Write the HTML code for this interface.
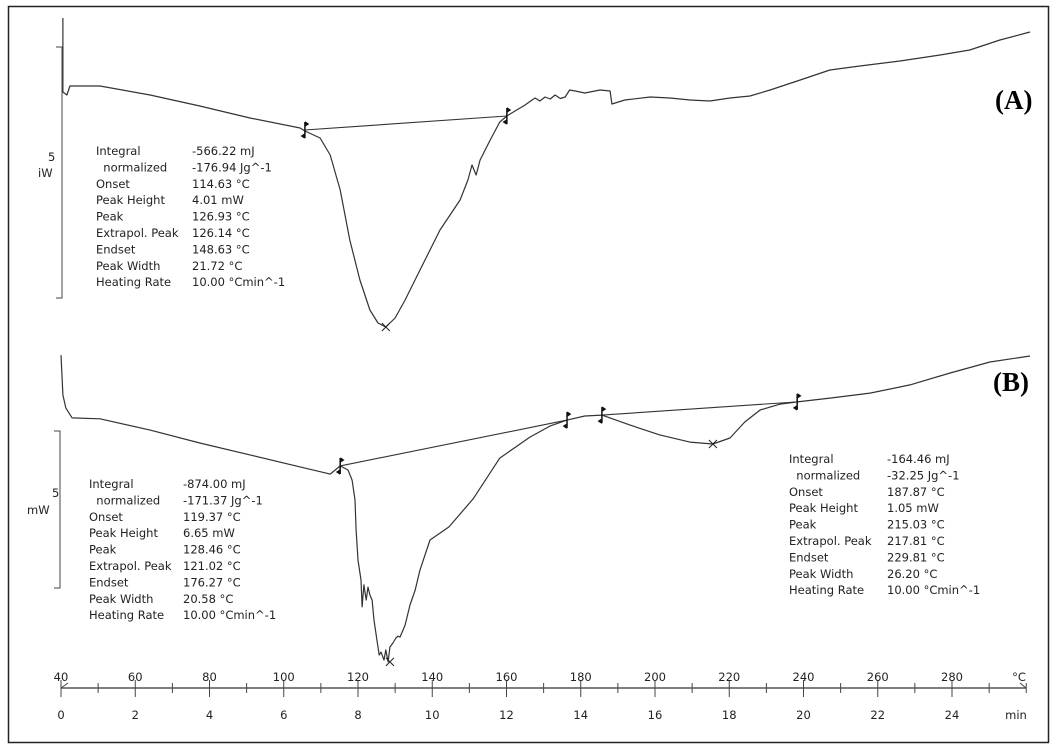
<!DOCTYPE html>
<html><head><meta charset="utf-8"><style>
body{margin:0;background:#fff}
svg{display:block}
text{font-family:"DejaVu Sans","Liberation Sans",sans-serif;font-size:11.5px;fill:#222;white-space:pre}
</style></head><body>
<svg id="chart" width="1055" height="749" viewBox="0 0 1055 749">
<rect x="8.5" y="6.5" width="1040" height="736" fill="none" stroke="#222" stroke-width="1.5"/>
<g id="g"></g>
</svg>
<script>
// Curve A: temperature (°C) and heat flow (mW, relative)
const tempA=[40.5,40.5,41.6,42.4,50.5,64,77.4,90.9,104.4,105.7,109.8,112.5,115.2,117.8,120.5,123.2,125.4,127.5,130,132.7,136.7,142.1,147.5,149.6,150.7,151.8,152.9,155.6,158.2,160.1,162.3,165,166.5,167.7,169,170.4,171.8,173.1,174.5,175.8,177,178.5,181.1,185.2,187.9,188.4,191.9,198.7,204,209.4,214.8,220.2,225.6,231,239.1,247.1,255.2,266,276.8,284.8,292.9,301];
const valA=[1.64,0.16,0.1,0.28,0.28,0.1,-0.12,-0.36,-0.56,-0.62,-0.76,-1.1,-1.8,-2.8,-3.6,-4.2,-4.46,-4.54,-4.36,-4,-3.4,-2.6,-2,-1.6,-1.3,-1.5,-1.2,-0.8,-0.44,-0.32,-0.22,-0.1,-0.02,0.04,-0.02,0.06,0.02,0.1,0.03,0.06,0.2,0.18,0.14,0.2,0.18,-0.08,0,0.06,0.04,0,-0.02,0.04,0.08,0.2,0.4,0.6,0.68,0.78,0.9,1,1.2,1.36];
// Curve B
const tempB=[40,40.5,41.3,43,50.5,64,77.4,90.9,104.4,112.5,115.2,117.3,118.4,119.2,119.5,120,120.8,121.1,121.6,122.2,122.7,123.2,123.8,124.3,125.1,125.7,126.2,127,127.5,128.1,128.6,129.4,130.2,130.8,131.3,131.9,132.7,134,135.4,136.7,139.4,144.5,151,158.2,166.3,171.7,176.3,181.1,185.7,193.3,201.3,209.4,215.6,220.2,224.2,228.3,233.7,238.3,247.1,257.9,268.7,279.5,290.2,301];
const valB=[1.43,0.16,-0.25,-0.57,-0.6,-0.96,-1.37,-1.75,-2.13,-2.36,-2.1,-2.23,-2.55,-3.18,-4.14,-5.1,-5.73,-6.59,-5.89,-6.37,-5.96,-6.21,-6.37,-7.01,-7.64,-8.12,-8.03,-8.28,-7.96,-8.34,-7.87,-7.74,-7.58,-7.52,-7.55,-7.39,-7.17,-6.53,-6.05,-5.41,-4.46,-4.04,-3.15,-1.85,-1.18,-0.83,-0.64,-0.51,-0.48,-0.8,-1.11,-1.34,-1.4,-1.21,-0.7,-0.32,-0.13,-0.06,0.06,0.22,0.48,0.86,1.21,1.4];
// Baselines / markers
const baseA=[[105.7,-0.6],[160.1,-0.32]];
const peakA=[127.5,-4.54];
const baseB1=[[115.2,-2.1],[176.3,-0.64]];
const baseB2=[[185.7,-0.48],[238.3,-0.06]];
const peakB1=[128.6,-8.34];
const peakB2=[215.6,-1.4];
const tempTicks=[40,60,80,100,120,140,160,180,200,220,240,260,280];
const minTicks=[0,2,4,6,8,10,12,14,16,18,20,22,24];
const resA=[["Integral","-566.22 mJ"],["  normalized","-176.94 Jg^-1"],["Onset","114.63 °C"],["Peak Height","4.01 mW"],["Peak","126.93 °C"],["Extrapol. Peak","126.14 °C"],["Endset","148.63 °C"],["Peak Width","21.72 °C"],["Heating Rate","10.00 °Cmin^-1"]];
const resB1=[["Integral","-874.00 mJ"],["  normalized","-171.37 Jg^-1"],["Onset","119.37 °C"],["Peak Height","6.65 mW"],["Peak","128.46 °C"],["Extrapol. Peak","121.02 °C"],["Endset","176.27 °C"],["Peak Width","20.58 °C"],["Heating Rate","10.00 °Cmin^-1"]];
const resB2=[["Integral","-164.46 mJ"],["  normalized","-32.25 Jg^-1"],["Onset","187.87 °C"],["Peak Height","1.05 mW"],["Peak","215.03 °C"],["Extrapol. Peak","217.81 °C"],["Endset","229.81 °C"],["Peak Width","26.20 °C"],["Heating Rate","10.00 °Cmin^-1"]];

const NS="http://www.w3.org/2000/svg";
const g=document.getElementById('g');
const xT=t=>61+(t-40)*3.7125;
const yA=v=>100-v*50;
const yB=v=>400-v*31.4;
function mk(tag,at,txt){const e=document.createElementNS(NS,tag);for(const k in at)e.setAttribute(k,at[k]);if(txt!=null)e.textContent=txt;g.appendChild(e);return e;}
function curve(ts,vs,fy,name){
  const d=ts.map((t,i)=>(i?'L':'M')+xT(t).toFixed(1)+','+fy(vs[i]).toFixed(1)).join('');
  const p=mk('path',{d:d,fill:'none',stroke:'#333','stroke-width':1.2,'stroke-linejoin':'round'});
  
  
}
curve(tempA,valA,yA,'curve-a');
curve(tempB,valB,yB,'curve-b');
function base(b,fy,name){
  const l=mk('line',{x1:xT(b[0][0]),y1:fy(b[0][1]),x2:xT(b[1][0]),y2:fy(b[1][1]),stroke:'#333','stroke-width':1.1});
  
  
  b.forEach(p=>{const x=xT(p[0]),y=fy(p[1]);
    const m=mk('path',{d:`M${x},${y-8}L${x},${y+8}M${x},${y-8}l3,2l-3,2M${x},${y+8}l-3,-2l3,-2`,stroke:'#111','stroke-width':1.5,fill:'#111'});
    
    });
}
base(baseA,yA,'baseline-a');
base(baseB1,yB,'baseline-b1');
base(baseB2,yB,'baseline-b2');
function cross(p,fy,name){const x=xT(p[0]),y=fy(p[1]);
  const c=mk('path',{d:`M${x-4},${y-4}L${x+4},${y+4}M${x-4},${y+4}L${x+4},${y-4}`,stroke:'#222','stroke-width':1});
  
  }
cross(peakA,yA,'peak-marker-a');
cross(peakB1,yB,'peak-marker-b1');
cross(peakB2,yB,'peak-marker-b2');
function table(rows,x1,x2,y0,name){rows.forEach((r,i)=>{
  const a=mk('text',{x:x1,y:y0+i*16.4},r[0]);
  
  
  const b=mk('text',{x:x2,y:y0+i*16.4},r[1]);
  
  });}
table(resA,96,192,155,'results-a');
table(resB1,89,183,488,'results-b1');
table(resB2,789,887,463,'results-b2');
function bar(x,y1,y2,name){const p=mk('path',{d:`M${x-6},${y1}H${x}V${y2}H${x-6}`,fill:'none',stroke:'#444','stroke-width':1});
  
  }
bar(62,47,298,'scale-bar-a');
bar(60,431,588,'scale-bar-b');
let t;
t=mk('text',{x:48,y:161},'5');
t=mk('text',{x:38,y:177},'iW');
t=mk('text',{x:52,y:497},'5');
t=mk('text',{x:27,y:514},'mW');
t=mk('text',{x:995,y:109,style:'font-family:"Liberation Serif",serif;font-weight:bold;font-size:27px;fill:#000'},'(A)');
t=mk('text',{x:993,y:391,style:'font-family:"Liberation Serif",serif;font-weight:bold;font-size:27px;fill:#000'},'(B)');
t=mk('line',{x1:61,y1:688,x2:1026,y2:688,stroke:'#555','stroke-width':1.5});
for(let T=40;T<=300;T+=10){const x=xT(T);const maj=(T%20===0)&&T<300;
  const tk=mk('line',{x1:x,y1:maj?680:683,x2:x,y2:maj?697:693,stroke:'#444','stroke-width':1});
  
  }
mk('path',{d:'M61,688l7,-5M1026,688l-6,-5',stroke:'#444',fill:'none'});
tempTicks.forEach(T=>{const e=mk('text',{x:xT(T),y:681,'text-anchor':'middle'},String(T));
  
  });
minTicks.forEach(m=>{const e=mk('text',{x:61+m*37.125,y:719,'text-anchor':'middle'},String(m));
  
  });
t=mk('text',{x:1019,y:681,'text-anchor':'middle'},'°C');
t=mk('text',{x:1016,y:719,'text-anchor':'middle'},'min');
</script>
</body></html>
